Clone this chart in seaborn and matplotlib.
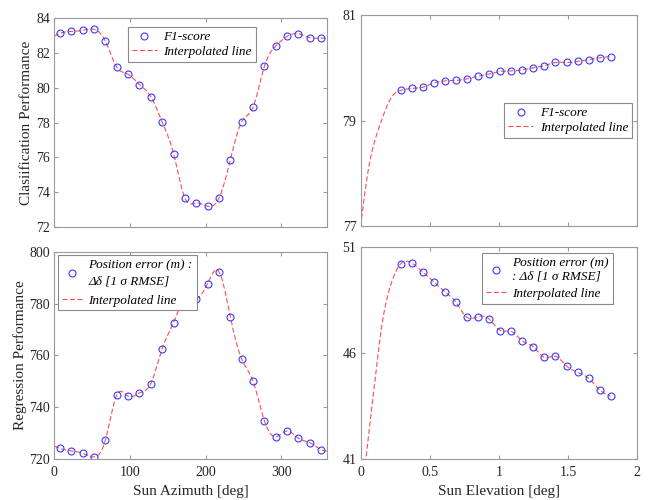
import numpy as np
import pandas as pd
import matplotlib
matplotlib.use("Agg")
import matplotlib.pyplot as plt
import seaborn as sns
from matplotlib.lines import Line2D
from matplotlib.font_manager import FontProperties

# ---------------- data ----------------
azimuth = [7.5 + 15 * i for i in range(24)]
f1_azimuth = [83.12, 83.23, 83.29, 83.35, 82.67, 81.18, 80.77, 80.18, 79.49, 78.03,
              76.22, 73.67, 73.38, 73.19, 73.65, 75.84, 78.03, 78.87, 81.22, 82.39,
              82.94, 83.10, 82.87, 82.85]
f1_az_line_ends = [82.95, 82.82]          # interpolated line value at 0 and 360 deg

pos_azimuth = [724.1, 723.1, 722.2, 720.8, 727.3, 744.7, 744.2, 745.5, 749.1, 762.6,
               772.6, 781.9, 781.9, 787.7, 792.3, 774.9, 758.6, 750.1, 734.8, 728.6,
               730.8, 728.0, 726.3, 723.6]
pos_az_line_ends = [725.0, 723.0]

elevation = [round(0.29 + 0.08 * i, 2) for i in range(20)]
f1_elevation = [79.57, 79.61, 79.63, 79.71, 79.75, 79.76, 79.79, 79.84, 79.88, 79.93,
                79.94, 79.96, 80.00, 80.04, 80.10, 80.10, 80.12, 80.15, 80.19, 80.21]
f1_el_lead_x = [0.0, 0.055, 0.104, 0.152, 0.200, 0.249]
f1_el_lead_y = [77.0, 78.06, 78.63, 79.01, 79.33, 79.52]

pos_elevation = [50.21, 50.24, 49.82, 49.35, 48.89, 48.39, 47.68, 47.72, 47.60, 47.06,
                 47.02, 46.57, 46.29, 45.79, 45.85, 45.39, 45.09, 44.80, 44.26, 43.96]
pos_el_lead_x = [0.0, 0.038, 0.104, 0.152, 0.200, 0.249]
pos_el_lead_y = [38.7, 41.0, 44.73, 47.24, 48.82, 49.76]


def natural_spline(x, y, xs):
    x = np.asarray(x, float); y = np.asarray(y, float)
    n = len(x)
    h = np.diff(x)
    A = np.zeros((n, n)); b = np.zeros(n)
    A[0, 0] = 1; A[-1, -1] = 1
    for i in range(1, n - 1):
        A[i, i - 1] = h[i - 1]
        A[i, i] = 2 * (h[i - 1] + h[i])
        A[i, i + 1] = h[i]
        b[i] = 6 * ((y[i + 1] - y[i]) / h[i] - (y[i] - y[i - 1]) / h[i - 1])
    M = np.linalg.solve(A, b)
    xs = np.asarray(xs, float)
    idx = np.clip(np.searchsorted(x, xs) - 1, 0, n - 2)
    x0, x1 = x[idx], x[idx + 1]
    hh = x1 - x0
    t1 = x1 - xs; t0 = xs - x0
    return (M[idx] * t1 ** 3 / (6 * hh) + M[idx + 1] * t0 ** 3 / (6 * hh)
            + (y[idx] / hh - M[idx] * hh / 6) * t1
            + (y[idx + 1] / hh - M[idx + 1] * hh / 6) * t0)


# ---------------- style ----------------
sns.set_theme(style="white")
SERIF = ["Liberation Serif", "DejaVu Serif"]
plt.rcParams["font.family"] = SERIF
plt.rcParams["font.serif"] = ["Liberation Serif", "DejaVu Serif"]

SPINE = "#9a9a9a"
TXT = "#262626"
MK = "#3a3aff"
LN = "#ff4d4d"
DASH = (0, (4.5, 2.25))
TICKSIZE = 10
LEGSIZE = 9.5

fig = plt.figure(figsize=(6.51, 5.0), dpi=100)
rects = {
    "tl": [0.0834, 0.546, 0.4186, 0.418],
    "tr": [0.554, 0.548, 0.4245, 0.422],
    "bl": [0.0834, 0.082, 0.4186, 0.4146],
    "br": [0.554, 0.082, 0.4245, 0.424],
}


def finish_ticks(ax):
    for lab in ax.get_xticklabels() + ax.get_yticklabels():
        lab.set_fontfamily(SERIF)
        lab.set_fontsize(TICKSIZE)
        lab.set_color(TXT)


def draw(ax, xm, ym, xl, yl, label1, legend_xy, handlelength=1.9,
         borderpad=0.3, labelspacing=0.2, linespacing=1.2):
    df_line = pd.DataFrame({"x": xl, "y": yl})
    df_pts = pd.DataFrame({"x": xm, "y": ym})
    sns.lineplot(data=df_line, x="x", y="y", ax=ax, color=LN, lw=0.8,
                 linestyle=DASH, sort=False)
    sns.lineplot(data=df_pts, x="x", y="y", ax=ax, linestyle="", marker="o",
                 markersize=5, markerfacecolor="none", markeredgecolor=MK,
                 markeredgewidth=0.8, color=MK)
    for s in ax.spines.values():
        s.set_color(SPINE); s.set_linewidth(0.8); s.set_visible(True)
    ax.tick_params(direction="in", length=3, width=0.8, color=SPINE,
                   top=True, right=True, bottom=True, left=True)
    ax.tick_params(axis="x", pad=5)
    ax.tick_params(axis="y", pad=3)
    h = [Line2D([], [], linestyle="", marker="o", markersize=5,
                markerfacecolor="none", markeredgecolor=MK, markeredgewidth=0.8),
         Line2D([], [], color=LN, lw=0.8, linestyle=DASH)]
    fp = FontProperties(family=SERIF, style="italic", size=LEGSIZE)
    leg = ax.legend(h, [label1, "Interpolated line"], loc="upper left",
                    bbox_to_anchor=legend_xy, borderaxespad=0, frameon=True,
                    fancybox=False, framealpha=1, edgecolor="#8a8a8a",
                    prop=fp, handlelength=handlelength, borderpad=borderpad,
                    labelspacing=labelspacing, handletextpad=0.5)
    leg.get_frame().set_linewidth(0.8)
    for t in leg.get_texts():
        t.set_color("black")
        t.set_linespacing(linespacing)
    ax.set_xlabel(""); ax.set_ylabel("")


LABFONT = dict(fontsize=11, color=TXT, fontfamily=SERIF)

# top-left
ax = fig.add_axes(rects["tl"])
xs = np.linspace(0, 360, 500)
knots_x = [0] + azimuth + [360]
knots_y = [f1_az_line_ends[0]] + f1_azimuth + [f1_az_line_ends[1]]
draw(ax, azimuth, f1_azimuth, xs, natural_spline(knots_x, knots_y, xs), "F1-score", (0.27, 0.957))
ax.set_xlim(0, 360); ax.set_ylim(72, 84)
ax.set_xticks([0, 100, 200, 300]); ax.set_xticklabels([])
ax.set_yticks([72, 74, 76, 78, 80, 82, 84])
ax.set_yticklabels(["72", "74", "76", "78", "80", "82", "84"])
ax.set_ylabel("Clasiification Performance", labelpad=2, **LABFONT)
finish_ticks(ax)

# top-right
ax = fig.add_axes(rects["tr"])
xs = np.linspace(0, elevation[-1], 500)
knots_x = f1_el_lead_x + elevation
knots_y = f1_el_lead_y + f1_elevation
draw(ax, elevation, f1_elevation, xs, natural_spline(knots_x, knots_y, xs), "F1-score", (0.519, 0.583))
ax.set_xlim(0, 2); ax.set_ylim(77, 81)
ax.set_xticks([0, 0.5, 1, 1.5, 2]); ax.set_xticklabels([])
ax.set_yticks([77, 79, 81]); ax.set_yticklabels(["77", "79", "81"])
finish_ticks(ax)

# bottom-left
ax = fig.add_axes(rects["bl"])
xs = np.linspace(0, 360, 500)
knots_x = [0] + azimuth + [360]
knots_y = [pos_az_line_ends[0]] + pos_azimuth + [pos_az_line_ends[1]]
draw(ax, azimuth, pos_azimuth, xs, natural_spline(knots_x, knots_y, xs),
     "Position error (m) :\nΔδ [1 σ RMSE]", (0.0136, 0.984),
     handlelength=1.5, borderpad=0.3, labelspacing=0.55, linespacing=1.45)
ax.set_xlim(0, 360); ax.set_ylim(720, 800)
ax.set_xticks([0, 100, 200, 300]); ax.set_xticklabels(["0", "100", "200", "300"])
ax.set_yticks([720, 740, 760, 780, 800])
ax.set_yticklabels(["720", "740", "760", "780", "800"])
ax.set_xlabel("Sun Azimuth [deg]", labelpad=4, **LABFONT)
ax.set_ylabel("Regression Performance", labelpad=2, **LABFONT)
finish_ticks(ax)

# bottom-right
ax = fig.add_axes(rects["br"])
xs = np.linspace(0, elevation[-1], 500)
knots_x = pos_el_lead_x + elevation
knots_y = pos_el_lead_y + pos_elevation
draw(ax, elevation, pos_elevation, xs, natural_spline(knots_x, knots_y, xs),
     "Position error (m)\n: Δδ [1 σ RMSE]", (0.4395, 0.972),
     handlelength=1.5, borderpad=0.3, labelspacing=0.38, linespacing=1.2)
ax.set_xlim(0, 2); ax.set_ylim(41, 51)
ax.set_xticks([0, 0.5, 1, 1.5, 2]); ax.set_xticklabels(["0", "0.5", "1", "1.5", "2"])
ax.set_yticks([41, 46, 51]); ax.set_yticklabels(["41", "46", "51"])
ax.set_xlabel("Sun Elevation [deg]", labelpad=4, **LABFONT)
finish_ticks(ax)

fig.savefig("out.png", dpi=100)
